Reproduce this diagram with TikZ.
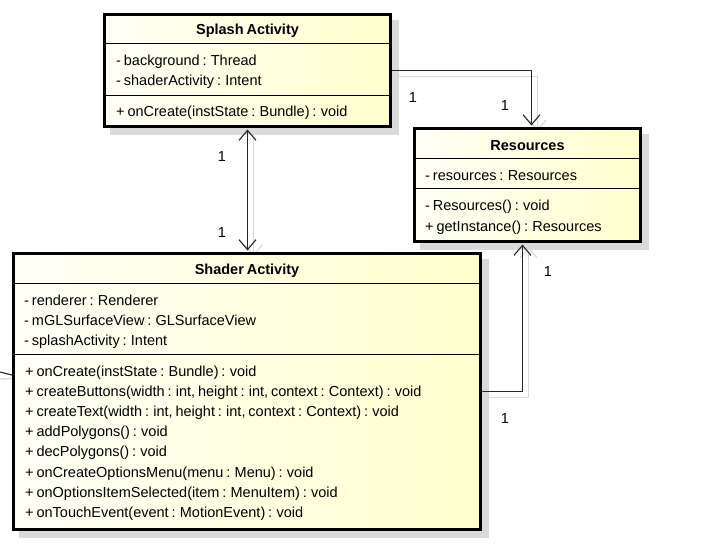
\documentclass[tikz,border=0pt]{standalone}
\usepackage{fontspec}
\setmainfont{Liberation Sans}[WordSpace=0.72]
\usetikzlibrary{arrows.meta,calc,backgrounds}
\definecolor{boxl}{RGB}{255,255,246}
\definecolor{boxr}{RGB}{255,255,206}
\definecolor{shadowgray}{RGB}{218,218,218}
\definecolor{shadowline}{RGB}{218,218,218}
\tikzset{
  classbox/.style={draw=black, line width=3pt, left color=boxl, right color=boxr, inner sep=0pt},
  sepline/.style={line width=1pt, draw=black},
  titletext/.style={font=\fontsize{14.5}{17}\selectfont\bfseries, inner sep=0pt},
  member/.style={font=\fontsize{14.5}{17}\selectfont, anchor=west, inner sep=0pt, text height=0.75em, text depth=0.25em},
  multlabel/.style={font=\fontsize{14.5}{17}\selectfont, inner sep=0pt},
  assoc/.style={line width=1.1pt, draw=black!85},
  tip/.style={-{Straight Barb[length=10pt,width=17pt,line width=1.1pt]}},
  shadowpath/.style={line width=1.4pt, draw=shadowline},
}
\begin{document}
\begin{tikzpicture}[x=1pt,y=-1pt]
\useasboundingbox (0,0) rectangle (710,544);

% ---------- boxes ----------
\node[classbox, minimum width=286pt, minimum height=112pt] (splash) at (247.5,70.5) {};
\node[classbox, minimum width=226pt, minimum height=113pt] (res) at (527.5,185) {};
\node[classbox, minimum width=467pt, minimum height=276pt] (shader) at (247,391.5) {};

% ---------- shadows ----------
\begin{scope}[on background layer]
  \fill[white] (0,0) rectangle (710,544);
  \foreach \b in {splash,res,shader}{
    \fill[shadowgray] ($(\b.south west)+(7,7)$) rectangle ($(\b.north east)+(7,7)$);
  }
  % connector shadows
  \draw[shadowpath, tip] ($(splash.east)+(6,6)$) -| ($(res.north)+(10,4)$);
  \draw[shadowpath, tip] ($(splash.south)+(6,4)$) -- ($(shader.north)+(6.5,4)$);
  \draw[shadowpath, tip] ($(shader.east)+(6,6)$) -| ($(res.south)+(1,4)$);
  \coordinate (stubs) at (0,379);
  \draw[shadowpath] (stubs) -- ($(shader.west)+(4,-13)$);
\end{scope}

% ---------- separators ----------
\draw[sepline] (splash.west |- 0,43) -- (splash.east |- 0,43);
\draw[sepline] (splash.west |- 0,95) -- (splash.east |- 0,95);
\draw[sepline] (res.west |- 0,158) -- (res.east |- 0,158);
\draw[sepline] (res.west |- 0,188) -- (res.east |- 0,188);
\draw[sepline] (shader.west |- 0,283) -- (shader.east |- 0,283);
\draw[sepline] (shader.west |- 0,354) -- (shader.east |- 0,354);

% ---------- Splash Activity ----------
\node[titletext] (splashT) at (247.5,31) {Splash Activity};
\node[member] (sa1) at (116,63) {- background : Thread};
\node[member] (sa2) at (116,83) {- shaderActivity : Intent};
\node[member] (sm1) at (116,114) {+ onCreate(instState : Bundle) : void};

% ---------- Resources ----------
\node[titletext] (resT) at (527.5,146) {Resources};
\node[member] (ra1) at (425,178) {- resources : Resources};
\node[member] (rm1) at (425,208) {- Resources() : void};
\node[member] (rm2) at (425,229) {+ getInstance() : Resources};

% ---------- Shader Activity ----------
\node[titletext] (shaderT) at (247,271) {Shader Activity};
\node[member] (ha1) at (24,303) {- renderer : Renderer};
\node[member] (ha2) at (24,323) {- mGLSurfaceView : GLSurfaceView};
\node[member] (ha3) at (24,343) {- splashActivity : Intent};
\node[member] (hm1) at (25,374) {+ onCreate(instState : Bundle) : void};
\node[member] (hm2) at (25,394) {+ createButtons(width : int, height : int, context : Context) : void};
\node[member] (hm3) at (25,414) {+ createText(width : int, height : int, context : Context) : void};
\node[member] (hm4) at (25,434) {+ addPolygons() : void};
\node[member] (hm5) at (25,454) {+ decPolygons() : void};
\node[member] (hm6) at (25,475) {+ onCreateOptionsMenu(menu : Menu) : void};
\node[member] (hm7) at (25,495) {+ onOptionsItemSelected(item : MenuItem) : void};
\node[member] (hm8) at (25,515) {+ onTouchEvent(event : MotionEvent) : void};

% ---------- connectors ----------
\draw[assoc, tip] (splash.east) -| ($(res.north)+(4,-1.5)$);
\draw[assoc, {Straight Barb[length=10pt,width=17pt,line width=1.1pt]}-{Straight Barb[length=10pt,width=17pt,line width=1.1pt]}]
  ($(splash.south)+(0,1.5)$) -- ($(shader.north)+(0.5,-1.5)$);
\draw[assoc, tip] (shader.east) -| ($(res.south)+(-5,1.5)$);
\coordinate (stub) at (0,372);
\draw[assoc] (stub) -- ($(shader.west)+(0,-16.5)$);

% ---------- multiplicities ----------
\node[multlabel] (m1) at (413,98) {1};
\node[multlabel] (m2) at (505,106) {1};
\node[multlabel] (m3) at (222,157) {1};
\node[multlabel] (m4) at (222,233) {1};
\node[multlabel] (m5) at (548,272) {1};
\node[multlabel] (m6) at (505,419) {1};
\end{tikzpicture}
\end{document}
